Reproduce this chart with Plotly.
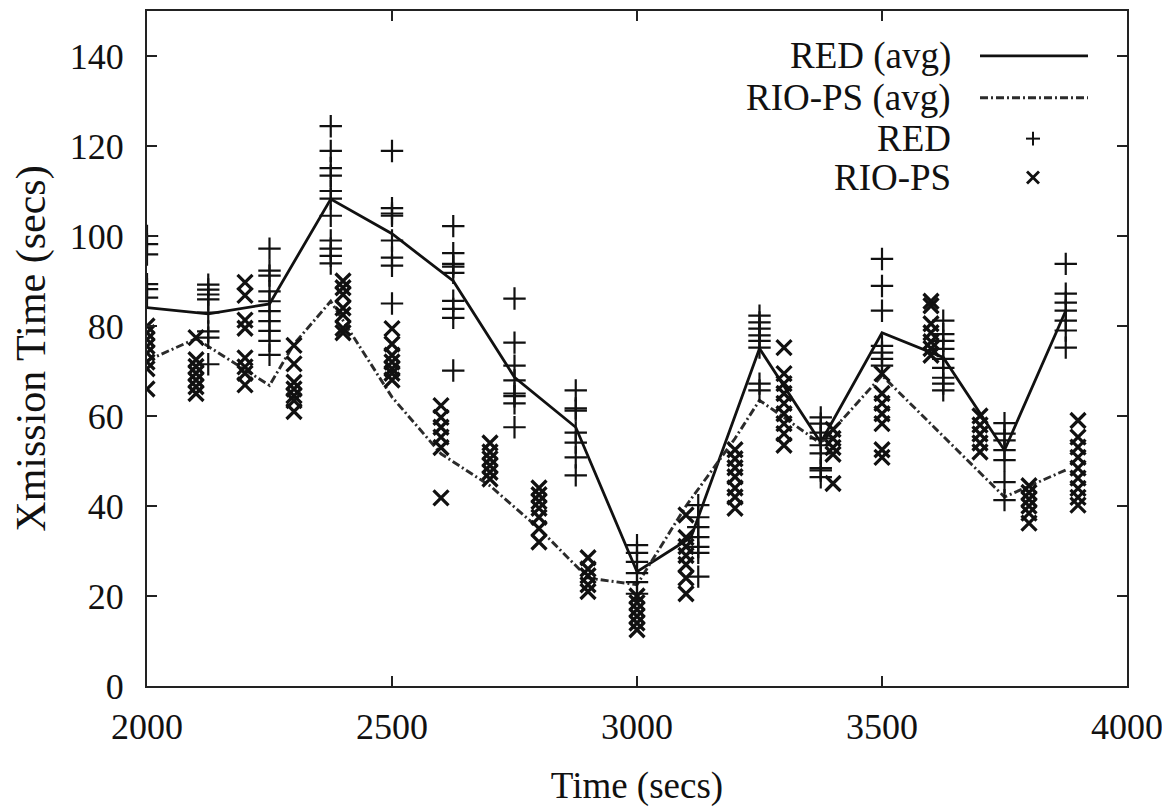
import plotly.graph_objects as go

# ---------------- data ----------------
red_times = [2000, 2125, 2250, 2375, 2500, 2625, 2750, 2875,
             3000, 3125, 3250, 3375, 3500, 3625, 3750, 3875]
red_samples = [
    [100.0, 98.2, 95.9, 89.3, 88.2, 86.3],
    [89.2, 88.1, 87.0, 85.9, 83.0, 78.8, 77.4, 71.5],
    [97.2, 92.3, 91.2, 87.7, 85.5, 83.3, 81.1, 78.9, 76.7, 73.6],
    [124.4, 118.9, 115.1, 113.4, 110.0, 108.3, 104.5, 99.0, 97.2, 95.6, 93.9],
    [118.9, 106.2, 105.0, 104.5, 99.0, 95.2, 93.4, 85.0],
    [102.2, 96.2, 93.8, 93.2, 91.8, 85.6, 83.8, 81.8, 70.1],
    [86.1, 76.3, 71.2, 67.9, 65.0, 64.4, 62.8, 57.5],
    [65.7, 61.7, 61.2, 56.3, 54.1, 50.8, 46.8],
    [31.3, 29.6, 27.6, 25.1, 23.1, 20.5],
    [40.2, 37.5, 35.3, 33.1, 30.9, 29.6, 24.3],
    [82.3, 80.8, 79.4, 77.9, 76.7, 75.2, 67.2, 65.7],
    [59.7, 58.3, 56.3, 55.0, 53.5, 51.7, 48.4, 47.9, 46.4],
    [94.9, 88.9, 83.4, 75.6, 74.1, 72.7, 71.2],
    [81.2, 78.2, 76.7, 74.9, 72.7, 70.7, 68.5, 67.2, 65.7],
    [58.4, 56.1, 54.6, 52.4, 50.2, 45.3, 41.3],
    [93.8, 87.2, 85.2, 83.4, 81.2, 79.0, 75.2],
]

rio_times = [2000, 2100, 2200, 2300, 2400, 2500, 2600, 2700, 2800, 2900,
             3000, 3100, 3200, 3300, 3400, 3500, 3600, 3700, 3800, 3900]
rio_samples = [
    [80, 78.5, 77, 75.5, 74, 72, 70.5, 66],
    [77.4, 72.5, 71, 69.5, 68, 66.5, 65],
    [89.7, 86.8, 81.3, 79.5, 72.9, 70.9, 69.5, 66.9],
    [75.7, 71.6, 67.5, 66, 64.5, 63.4, 61],
    [90, 88.5, 87, 84, 82.5, 79.5, 78.5],
    [79.4, 76, 73.5, 72, 70.5, 69.5, 68],
    [62.3, 59.7, 57.5, 55.3, 53, 41.8],
    [54, 52, 50.5, 49, 47.5, 46],
    [44, 42.5, 41, 39.5, 37.5, 35, 32],
    [28.5, 26, 24.5, 22.5, 21],
    [20, 18.5, 17, 15.5, 14, 12.5],
    [38, 33, 31, 29, 27, 24, 20.5],
    [52.5, 50.5, 48.5, 46.5, 44, 42, 39.5],
    [75.2, 69.4, 67.2, 65.0, 62.8, 60.5, 58.3, 56.1, 53.5],
    [57, 55, 53, 51.5, 45],
    [69.4, 65, 62.8, 60.5, 58.3, 52.5, 50.8],
    [85.5, 84.5, 80.5, 78.5, 76.5, 75, 73.5],
    [60, 58, 56, 54, 52],
    [44.5, 43, 41.5, 40, 38.4, 36.2],
    [59.0, 55.3, 53.1, 50.8, 48.4, 46.2, 43.9, 41.9, 40.2],
]

red_avg_times = [2000, 2125, 2250, 2375, 2500, 2625, 2750, 2875,
                 3000, 3110, 3250, 3375, 3500, 3625, 3750, 3875]
red_avg = [84.1, 82.7, 84.9, 108.2, 100.5, 90.0, 68.6, 57.5,
           25.4, 33.0, 75.0, 54.1, 78.5, 73.0, 52.4, 83.4]

rio_avg_times = [2000, 2100, 2250, 2300, 2375, 2500, 2600, 2700, 2800,
                 2900, 3000, 3100, 3200, 3250, 3375, 3500, 3750, 3875]
rio_avg = [72.3, 77.2, 66.8, 76.0, 85.5, 64.2, 51.6, 44.5, 35.0,
           24.0, 22.5, 40.0, 55.0, 63.5, 53.9, 69.0, 42.0, 48.0]

legend_labels = ["RED (avg)", "RIO-PS (avg)", "RED", "RIO-PS"]

# ---------------- figure ----------------
def flatten(times, samples):
    xs, ys = [], []
    for t, vals in zip(times, samples):
        for v in vals:
            xs.append(t)
            ys.append(v)
    return xs, ys

rx, ry = flatten(red_times, red_samples)
ix, iy = flatten(rio_times, rio_samples)

FONT = "Liberation Serif, Times New Roman, serif"
INK = "#111111"
DASH_COLOR = "#2b2b2b"
DASHDOT = "8px,3px,2px,3px"

fig = go.Figure()
fig.add_trace(go.Scatter(x=red_avg_times, y=red_avg, mode="lines",
                         line=dict(color=INK, width=2.8),
                         showlegend=False))
fig.add_trace(go.Scatter(x=rio_avg_times, y=rio_avg, mode="lines",
                         line=dict(color=DASH_COLOR, width=2.9, dash=DASHDOT),
                         showlegend=False))
fig.add_trace(go.Scatter(x=rx, y=ry, mode="markers",
                         marker=dict(symbol="cross-thin", size=16,
                                     line=dict(color=INK, width=2.2)),
                         showlegend=False))
fig.add_trace(go.Scatter(x=ix, y=iy, mode="markers",
                         marker=dict(symbol="x-thin", size=15,
                                     line=dict(color=INK, width=3.2)),
                         showlegend=False))

# ---------------- manual gnuplot-style legend (text, then key) -----------
W_PLOT, H_PLOT = 980.0, 677.0
def px(dx):
    return dx / W_PLOT
def py(dy):
    return dy / H_PLOT

text_x = px(953 - 147)
rows_y = [py(686 - 54), py(686 - 96), py(686 - 137), py(686 - 176)]
key_x0, key_x1 = px(980 - 147), px(1088 - 147)
key_cx = px(1033 - 147)

annotations = []
for lab, yy in zip(legend_labels, rows_y):
    annotations.append(dict(x=text_x, y=yy, xref="paper", yref="paper",
                            text=lab, showarrow=False, xanchor="right",
                            yanchor="middle",
                            font=dict(family=FONT, size=37, color=INK)))

shapes = [
    dict(type="line", xref="paper", yref="paper", x0=key_x0, x1=key_x1,
         y0=rows_y[0], y1=rows_y[0], line=dict(color=INK, width=2.8)),
    dict(type="line", xref="paper", yref="paper", x0=key_x0, x1=key_x1,
         y0=rows_y[1], y1=rows_y[1],
         line=dict(color=DASH_COLOR, width=2.9, dash=DASHDOT)),
    dict(type="line", xref="paper", yref="paper", x0=key_cx - px(7), x1=key_cx + px(7),
         y0=rows_y[2], y1=rows_y[2], line=dict(color=INK, width=2)),
    dict(type="line", xref="paper", yref="paper", x0=key_cx, x1=key_cx,
         y0=rows_y[2] - py(7), y1=rows_y[2] + py(7), line=dict(color=INK, width=2)),
    dict(type="line", xref="paper", yref="paper", x0=key_cx - px(6), x1=key_cx + px(6),
         y0=rows_y[3] - py(6), y1=rows_y[3] + py(6), line=dict(color=INK, width=2.8)),
    dict(type="line", xref="paper", yref="paper", x0=key_cx - px(6), x1=key_cx + px(6),
         y0=rows_y[3] + py(6), y1=rows_y[3] - py(6), line=dict(color=INK, width=2.8)),
]

axis_common = dict(showline=True, linecolor="#222222", linewidth=2, mirror="ticks",
                   ticks="inside", ticklen=10, tickwidth=1.5, tickcolor="#222222",
                   showgrid=False, zeroline=False,
                   tickfont=dict(family=FONT, size=36, color=INK))

# The page body keeps its default 8px margin, so the figure is sized 8px
# smaller and its margins are offset so the plot frame lands at
# x 147..1127, y 9..686 of the 1170x809 window.
fig.update_layout(
    width=1162, height=801,
    margin=dict(l=139, r=43, t=1, b=123),
    paper_bgcolor="white", plot_bgcolor="white",
    font=dict(family=FONT, size=36, color=INK),
    xaxis=dict(range=[2000, 4000], dtick=500, tick0=2000,
               title=dict(text="Time (secs)", standoff=26,
                          font=dict(family=FONT, size=37)),
               ticklabelstandoff=8, **axis_common),
    yaxis=dict(range=[0, 150], dtick=20, tick0=0,
               title=dict(text="Xmission Time (secs)", standoff=18,
                          font=dict(family=FONT, size=42)),
               ticklabelstandoff=14, **axis_common),
    annotations=annotations,
    shapes=shapes,
    showlegend=False,
)

fig.write_html("out.html")
